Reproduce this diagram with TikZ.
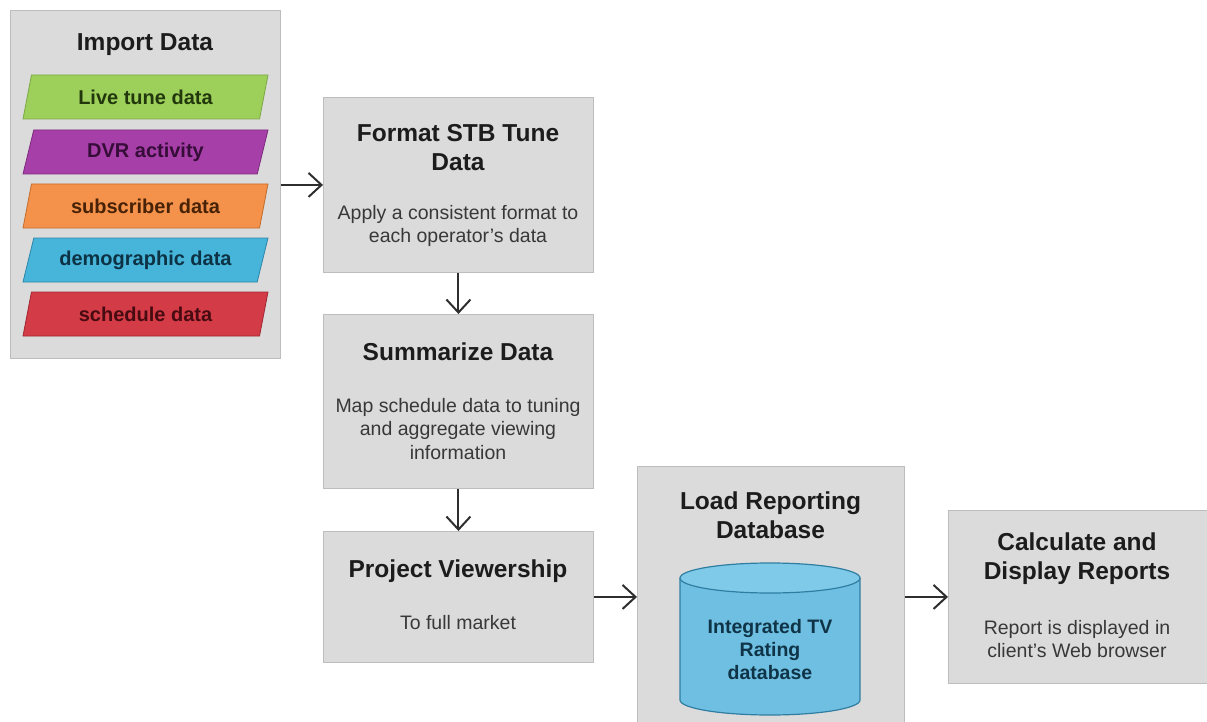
\documentclass[tikz,border=0pt]{standalone}
\usepackage{fontspec}
\setmainfont{Liberation Sans}
\usetikzlibrary{shapes.geometric,arrows.meta}

\definecolor{boxfill}{HTML}{DBDBDB}
\definecolor{boxline}{HTML}{BDBDBD}
\definecolor{titlecol}{HTML}{1C1C1C}
\definecolor{desccol}{HTML}{383838}
\definecolor{arrowcol}{HTML}{2E2E2E}
\definecolor{greenfill}{HTML}{9DD05B}
\definecolor{greenline}{HTML}{7BA846}
\definecolor{greentext}{HTML}{22380C}
\definecolor{purplefill}{HTML}{A63FA8}
\definecolor{purpleline}{HTML}{7E2A80}
\definecolor{purpletext}{HTML}{360C38}
\definecolor{orangefill}{HTML}{F4914A}
\definecolor{orangeline}{HTML}{C26D2D}
\definecolor{orangetext}{HTML}{472206}
\definecolor{bluefill}{HTML}{47B4DA}
\definecolor{blueline}{HTML}{2C86A8}
\definecolor{bluetext}{HTML}{0C3244}
\definecolor{redfill}{HTML}{D33B46}
\definecolor{redline}{HTML}{A02631}
\definecolor{redtext}{HTML}{470B11}
\definecolor{cylfill}{HTML}{6FBFE2}
\definecolor{cyltop}{HTML}{7FCAE9}
\definecolor{cylline}{HTML}{2F7EA2}
\definecolor{cyltext}{HTML}{0F3447}

\tikzset{
  stage/.style={draw=boxline, fill=boxfill, line width=0.9pt, anchor=north west, inner sep=0pt},
  ttl/.style={font=\fontsize{24.5}{29}\selectfont\bfseries, text=titlecol, align=center, inner sep=0pt},
  desc/.style={font=\fontsize{19.5}{23.5}\selectfont, text=desccol, align=center, inner sep=0pt},
  feed/.style={trapezium, trapezium left angle=60, trapezium right angle=120,
    trapezium stretches body=true, minimum width=245pt, minimum height=44pt,
    inner sep=0pt, line width=0.8pt, font=\fontsize{20}{23}\selectfont\bfseries},
  flow/.style={draw=arrowcol, line width=2pt,
    -{Straight Barb[length=13pt,width=24pt,line width=2pt]}}
}

\begin{document}
\begin{tikzpicture}[x=1pt, y=-1pt]
\useasboundingbox (0,0) rectangle (1207,722);

% ---- process boxes ----
\node[stage, minimum width=270pt, minimum height=348pt] (import) at (10,10) {};
\node[stage, minimum width=270pt, minimum height=175pt] (format) at (323,97) {};
\node[stage, minimum width=270pt, minimum height=174pt] (summ) at (323,314) {};
\node[stage, minimum width=270pt, minimum height=131pt] (proj) at (323,531) {};
\node[stage, minimum width=267pt, minimum height=262pt] (load) at (637,466) {};
\node[stage, minimum width=266pt, minimum height=173pt] (calc) at (948,510) {};

% ---- import stage: title and input feeds ----
\node[ttl] (importT) at (145,45) {Import Data};
\node[feed, fill=greenfill, draw=greenline, text=greentext] (live) at (145.5,97) {Live tune data};
\node[feed, fill=purplefill, draw=purpleline, text=purpletext] (dvr) at (145.5,152) {DVR activity};
\node[feed, fill=orangefill, draw=orangeline, text=orangetext] (subs) at (145.5,206) {subscriber data};
\node[feed, fill=bluefill, draw=blueline, text=bluetext] (demo) at (145.5,260) {demographic data};
\node[feed, fill=redfill, draw=redline, text=redtext] (sched) at (145.5,314) {schedule data};

% ---- format stage ----
\node[ttl] (formatT) at (458,147.5) {Format STB Tune\\Data};
\node[desc] (formatD) at (458,226) {Apply a consistent format to\\each operator's data};

% ---- summarize stage ----
\node[ttl] (summT) at (458,352) {Summarize Data};
\node[desc] (summD) at (458,429) {Map schedule data to tuning\\and aggregate viewing\\information};

% ---- projection stage ----
\node[ttl] (projT) at (458,571) {Project Viewership};
\node[desc] (projD) at (458,623) {To full market};

% ---- reporting database stage ----
\node[ttl] (loadT) at (770.5,515) {Load Reporting\\Database};
\fill[cylfill] (680,578) rectangle (860,700);
\fill[cylfill] (770,700) ellipse [x radius=90pt, y radius=15pt];
\draw[cylline, line width=1.2pt] (680,578) -- (680,700)
  arc[start angle=180, end angle=360, x radius=90pt, y radius=15pt] -- (860,578);
\filldraw[fill=cyltop, draw=cylline, line width=1.2pt] (770,578) ellipse [x radius=90pt, y radius=15pt];
\node[font=\fontsize{19.5}{23}\selectfont\bfseries, text=cyltext, align=center, inner sep=0pt]
  (dbT) at (770,650) {Integrated TV\\Rating\\database};

% ---- report stage ----
\node[ttl] (calcT) at (1077,559) {Calculate and\\Display Reports};
\node[desc] (calcD) at (1077,639) {Report is displayed in\\client's Web browser};

% ---- connectors ----
\draw[flow] (import.east |- format.west) -- (format.west);
\draw[flow] (format.south) -- (summ.north);
\draw[flow] (summ.south) -- (proj.north);
\draw[flow] (proj.east) -- (proj.east -| load.west);
\draw[flow] (load.east |- calc.west) -- (calc.west);
\end{tikzpicture}
\end{document}
